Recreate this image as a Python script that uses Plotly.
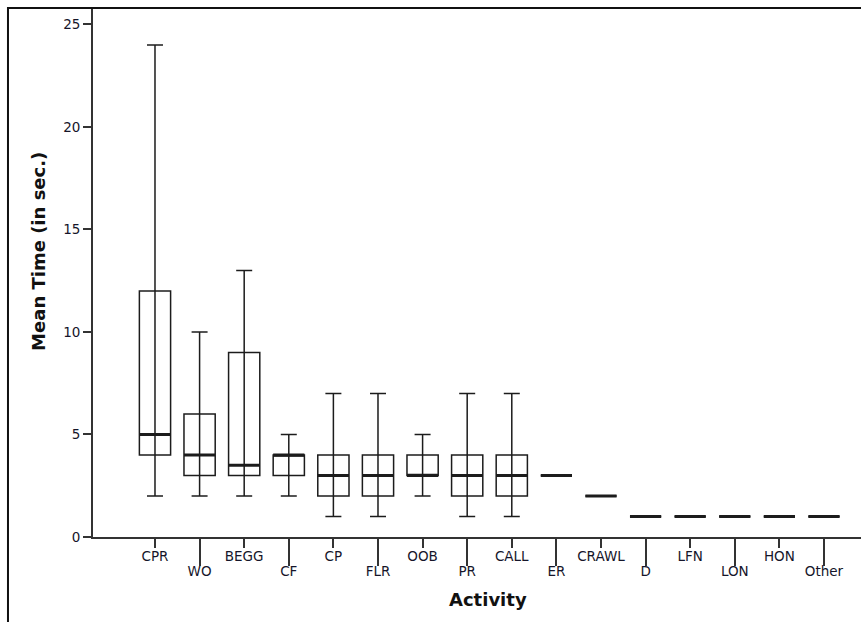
import plotly.graph_objects as go

# Activity categories and box summaries (seconds)
activities = ["CPR", "WO", "BEGG", "CF", "CP", "FLR", "OOB", "PR", "CALL",
              "ER", "CRAWL", "D", "LFN", "LON", "HON", "Other"]
whisker_low = [2, 2, 2, 2, 1, 1, 2, 1, 1, 3, 2, 1, 1, 1, 1, 1]
q1 = [4, 3, 3, 3, 2, 2, 3, 2, 2, 3, 2, 1, 1, 1, 1, 1]
median = [5, 4, 3.5, 4, 3, 3, 3, 3, 3, 3, 2, 1, 1, 1, 1, 1]
q3 = [12, 6, 9, 4, 4, 4, 4, 4, 4, 3, 2, 1, 1, 1, 1, 1]
whisker_high = [24, 10, 13, 5, 7, 7, 5, 7, 7, 3, 2, 1, 1, 1, 1, 1]

y_ticks = [0, 5, 10, 15, 20, 25]

pos = list(range(len(activities)))
even_pos = pos[0::2]
odd_pos = pos[1::2]

INK = "#1c1c1c"
BOX_W = 0.7
X_RANGE = [-1.39, 15.83]

fig = go.Figure()

# whiskers: one continuous vertical line through each box, with caps
fig.add_trace(go.Scatter(
    x=pos, y=median, mode="markers", xaxis="x2",
    marker=dict(size=1, opacity=0),
    error_y=dict(type="data", symmetric=False,
                 array=[h - m for h, m in zip(whisker_high, median)],
                 arrayminus=[m - l for m, l in zip(median, whisker_low)],
                 color=INK, thickness=1.5, width=8),
    hoverinfo="skip", showlegend=False,
))

# interquartile boxes
fig.add_trace(go.Box(
    x=pos, q1=q1, median=median, q3=q3,
    lowerfence=q1, upperfence=q3,
    width=BOX_W, whiskerwidth=0.52,
    line=dict(color=INK, width=1.5),
    fillcolor="rgba(0,0,0,0)",
    boxpoints=False, showlegend=False,
))

# heavier median bars
fig.add_trace(go.Box(
    x=pos, q1=median, median=median, q3=median,
    lowerfence=median, upperfence=median,
    width=BOX_W,
    line=dict(color=INK, width=3),
    fillcolor="rgba(0,0,0,0)",
    boxpoints=False, showlegend=False,
))

tick_font = dict(family="DejaVu Sans", size=13.5, color="#15152a")
title_font = dict(family="DejaVu Sans", size=18, color="#111111")

fig.update_layout(
    width=861, height=622,
    margin=dict(l=93, r=0, t=8, b=85),
    paper_bgcolor="white", plot_bgcolor="white",
    boxmode="overlay",
    showlegend=False,
    xaxis=dict(
        range=X_RANGE, tickmode="array",
        tickvals=even_pos, ticktext=[activities[i] for i in even_pos],
        ticks="outside", ticklen=9, tickwidth=1.5, tickcolor="#333333",
        ticklabelstandoff=-3,
        showline=True, linecolor="#333333", linewidth=1.8,
        showgrid=False, zeroline=False, tickfont=tick_font,
    ),
    xaxis2=dict(
        range=X_RANGE, overlaying="x", anchor="y", side="bottom",
        tickmode="array",
        tickvals=odd_pos, ticktext=[activities[i] for i in odd_pos],
        ticks="outside", ticklen=28, tickwidth=1.5, tickcolor="#333333",
        ticklabelstandoff=-6,
        showline=False, showgrid=False, zeroline=False, tickfont=tick_font,
    ),
    yaxis=dict(
        range=[0, 25.8], tickmode="array", tickvals=y_ticks,
        ticks="outside", ticklen=8, tickwidth=1.5, tickcolor="#333333",
        showline=True, linecolor="#333333", linewidth=1.8,
        showgrid=False, zeroline=False, tickfont=tick_font,
    ),
    annotations=[
        dict(text="<b>Activity</b>", xref="paper", yref="paper",
             x=0.514, y=-0.119, xanchor="center", yanchor="middle",
             showarrow=False, font=title_font),
        dict(text="<b>Mean Time (in sec.)</b>", xref="paper", yref="paper",
             x=-0.0703, y=0.539, xanchor="center", yanchor="middle",
             textangle=-90, showarrow=False, font=title_font),
    ],
    shapes=[
        dict(type="rect", xref="paper", yref="paper",
             x0=-0.1107, x1=1.2, y0=-0.4, y1=1.0,
             line=dict(color="#111111", width=2), fillcolor="rgba(0,0,0,0)"),
    ],
)

fig.write_html("out.html")
